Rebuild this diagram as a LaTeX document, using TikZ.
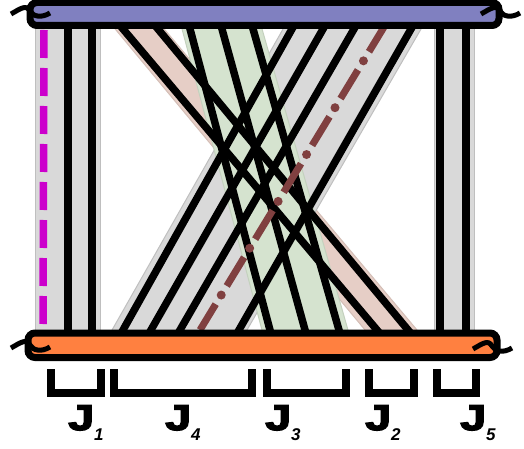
\documentclass[tikz,border=0pt]{standalone}
\usepackage{fontspec}
\setmainfont{Liberation Sans}
\newfontfamily\jfont[FakeBold=4,FakeStretch=1.3]{Liberation Sans Bold}
\newfontfamily\subfont{Liberation Sans Bold Italic}
\definecolor{topbar}{RGB}{128,128,192}
\definecolor{botbar}{RGB}{255,128,64}
\definecolor{bandgray}{RGB}{217,217,217}
\definecolor{bandgreen}{RGB}{213,227,207}
\definecolor{bandpink}{RGB}{230,206,198}
\definecolor{dashpink}{RGB}{204,0,204}
\definecolor{dashbrown}{RGB}{128,64,64}
\tikzset{
    strand/.style={line width=7.5pt},
    grayband/.style={fill=bandgray, draw=bandgray!88!black, line width=1pt},
    greenband/.style={fill=bandgreen, draw=bandgreen!92!black, line width=1pt},
    pinkband/.style={fill=bandpink, draw=bandpink!92!black, line width=1pt},
    bar/.style={draw, line width=7pt, rounded corners=7pt},
    brk/.style={line width=5pt},
    bracket/.style={line width=8pt},
    lbl/.style={anchor=base west, inner sep=0pt, font=\fontsize{36}{36}\selectfont}
}
\begin{document}
\begin{tikzpicture}[x=1pt,y=-1pt]
    \useasboundingbox (0,0) rectangle (524,449);
    \fill[grayband] (35,24) rectangle (100,335);
    \fill[grayband] (434,24) rectangle (474,335);
    \filldraw[pinkband] (111,24) -- (160,24) -- (421.2,335) -- (369.2,335) -- cycle;
    \filldraw[grayband] (285.9,24) -- (423.9,24) -- (244.1,335) -- (109.2,335) -- cycle;
    \filldraw[greenband] (180.7,24) -- (260.6,24) -- (349.4,335) -- (263.3,335) -- cycle;
    \draw[strand] (68,24) -- (68,335);
    \draw[strand] (92,24) -- (92,335);
    \draw[strand] (440,24) -- (440,335);
    \draw[strand] (466,24) -- (466,335);
    \draw[strand] (118.8,24) -- (381.2,335);
    \draw[strand] (153.8,24) -- (412.2,335);
    \draw[strand] (188.7,24) -- (271.3,335);
    \draw[strand] (220.6,24) -- (306.4,335);
    \draw[strand] (251.6,24) -- (340.4,335);
    \draw[strand] (294.8,24) -- (120.2,335);
    \draw[strand] (325.9,24) -- (148.1,335);
    \draw[strand] (356.9,24) -- (177.1,335);
    \draw[strand] (413.9,24) -- (236.1,335);
    \draw[dashpink, line width=7.5pt, dash pattern=on 28pt off 10pt] (44,30) -- (43,330);
    \draw[dashbrown, line width=7pt, dash pattern=on 33.5pt off 21.3pt, dash phase=4.55pt] (384,27) -- (200,330);
    \draw[dashbrown, line width=9pt, line cap=round, dash pattern=on 0pt off 54.8pt, dash phase=15.2pt] (384,27) -- (200,330);
    \draw[bar, fill=topbar] (30,2.5) rectangle (499,25.5);
    \draw[bar, fill=botbar] (28,333) rectangle (497,357.5);
    \draw[brk, shift={(30,12)}] (-19,2) .. controls (-10,-3) and (-4,-8) .. (0,-1) .. controls (3,5) and (12,6) .. (20,1);
    \draw[brk, shift={(500,12)}] (-19,2) .. controls (-10,-3) and (-4,-8) .. (0,-1) .. controls (3,5) and (12,6) .. (20,1);
    \draw[brk, shift={(30,346)}] (-19,2) .. controls (-10,-3) and (-4,-8) .. (0,-1) .. controls (3,5) and (12,6) .. (20,1);
    \draw[brk, shift={(492,347)}] (-19,2) .. controls (-10,-3) and (-4,-8) .. (0,-1) .. controls (3,5) and (12,6) .. (20,1);
    \draw[bracket] (51,369) -- (51,392.5) -- (101,392.5) -- (101,369);
    \draw[bracket] (114,369) -- (114,392.5) -- (252,392.5) -- (252,369);
    \draw[bracket] (267,369) -- (267,392.5) -- (346,392.5) -- (346,369);
    \draw[bracket] (369,369) -- (369,392.5) -- (414,392.5) -- (414,369);
    \draw[bracket] (437,369) -- (437,392.5) -- (476,392.5) -- (476,369);
    \node[lbl] (j1) at (68,430) {\jfont J\raisebox{-10pt}{\fontsize{17}{17}\subfont 1}};
    \node[lbl] (j4) at (165,430) {\jfont J\raisebox{-10pt}{\fontsize{17}{17}\subfont 4}};
    \node[lbl] (j3) at (265,430) {\jfont J\raisebox{-10pt}{\fontsize{17}{17}\subfont 3}};
    \node[lbl] (j2) at (365,430) {\jfont J\raisebox{-10pt}{\fontsize{17}{17}\subfont 2}};
    \node[lbl] (j5) at (460,430) {\jfont J\raisebox{-10pt}{\fontsize{17}{17}\subfont 5}};
\end{tikzpicture}
\end{document}
